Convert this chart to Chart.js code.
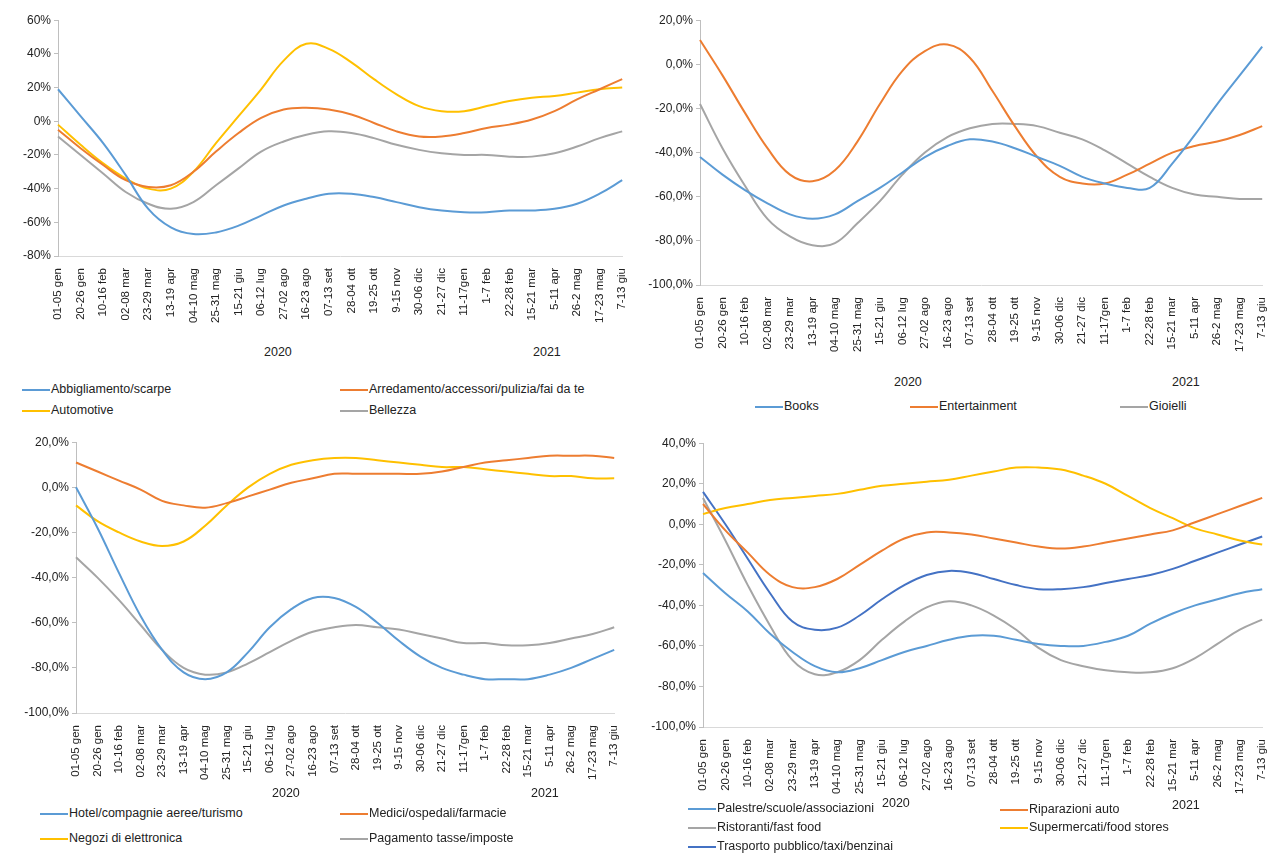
<!DOCTYPE html>
<html>
<head>
<meta charset="utf-8">
<script src="https://cdn.jsdelivr.net/npm/chart.js@4"></script>
<style>
  body { margin: 0; background: #fff; font-family: "Liberation Sans", sans-serif; font-size: 12px; color: #222; }
  #wrap { position: relative; width: 1281px; height: 854px; overflow: hidden; }
  .pane { position: absolute; }
  .lbl { position: absolute; white-space: nowrap; font-size: 12.5px; }
  .lg { position: absolute; white-space: nowrap; font-size: 12.5px; line-height: 14px; }
  .lg i { display: inline-block; width: 28px; height: 2px; vertical-align: middle; margin-right: 1px; }
</style>
</head>
<body>
<div id="wrap"></div>
<script>
// weekly tick labels (every third week)
const weeks = ['01-05 gen', '20-26 gen', '10-16 feb', '02-08 mar', '23-29 mar', '13-19 apr', '04-10 mag', '25-31 mag',
  '15-21 giu', '06-12 lug', '27-02 ago', '16-23 ago', '07-13 set', '28-04 ott', '19-25 ott', '9-15 nov', '30-06 dic',
  '21-27 dic', '11-17gen', '1-7 feb', '22-28 feb', '15-21 mar', '5-11 apr', '26-2 mag', '17-23 mag', '7-13 giu'];
const years = ['2020', '2021'];

// panel 1
const abbigliamento = [19, 3, -13, -32, -52, -63, -67, -66, -62, -56, -50, -46, -43, -43, -45, -48, -51, -53, -54, -54, -53, -53, -52, -49, -43, -35];
const arredamento = [-5, -16, -26, -35, -39, -38, -30, -18, -7, 2, 7, 8, 7, 4, -1, -6, -9, -9, -7, -4, -2, 1, 6, 13, 19, 25];
const automotive = [-2, -14, -25, -34, -40, -40, -30, -13, 3, 19, 36, 46, 43, 35, 25, 16, 9, 6, 6, 9, 12, 14, 15, 17, 19, 20];
const bellezza = [-9, -20, -31, -42, -49, -52, -48, -38, -28, -18, -12, -8, -6, -7, -10, -14, -17, -19, -20, -20, -21, -21, -19, -15, -10, -6];

// panel 2
const books = [-42, -50, -57, -63, -68, -70, -68, -62, -56, -49, -42, -37, -34, -35, -38, -42, -46, -51, -54, -56, -56, -45, -32, -18, -5, 8];
const entertainment = [11, -5, -22, -38, -50, -53, -48, -35, -18, -3, 6, 9, 3, -12, -28, -42, -51, -54, -54, -50, -45, -40, -37, -35, -32, -28];
const gioielli = [-18, -38, -55, -70, -78, -82, -81, -72, -62, -50, -40, -33, -29, -27, -27, -28, -31, -34, -39, -45, -51, -56, -59, -60, -61, -61];

// panel 3
const hotel = [0, -18, -38, -57, -72, -82, -85, -82, -73, -62, -54, -49, -49, -53, -60, -68, -75, -80, -83, -85, -85, -85, -83, -80, -76, -72];
const medici = [11, 7, 3, -1, -6, -8, -9, -7, -4, -1, 2, 4, 6, 6, 6, 6, 6, 7, 9, 11, 12, 13, 14, 14, 14, 13];
const elettronica = [-8, -15, -20, -24, -26, -24, -17, -8, 0, 6, 10, 12, 13, 13, 12, 11, 10, 9, 9, 8, 7, 6, 5, 5, 4, 4];
const tasse = [-31, -40, -50, -61, -72, -80, -83, -82, -78, -73, -68, -64, -62, -61, -62, -63, -65, -67, -69, -69, -70, -70, -69, -67, -65, -62];

// panel 4
const palestre = [-24, -34, -43, -54, -63, -70, -73, -71, -67, -63, -60, -57, -55, -55, -57, -59, -60, -60, -58, -55, -49, -44, -40, -37, -34, -32];
const riparazioni = [10, -3, -14, -25, -31, -31, -27, -20, -13, -7, -4, -4, -5, -7, -9, -11, -12, -11, -9, -7, -5, -3, 1, 5, 9, 13];
const ristoranti = [13, -8, -30, -50, -67, -74, -73, -67, -57, -48, -41, -38, -40, -45, -52, -61, -67, -70, -72, -73, -73, -71, -66, -59, -52, -47];
const supermercati = [5, 8, 10, 12, 13, 14, 15, 17, 19, 20, 21, 22, 24, 26, 28, 28, 27, 24, 20, 14, 8, 3, -2, -5, -8, -10];
const trasporto = [16, 0, -17, -34, -48, -52, -51, -45, -37, -30, -25, -23, -24, -27, -30, -32, -32, -31, -29, -27, -25, -22, -18, -14, -10, -6];

const BLUE = '#5B9BD5', ORANGE = '#ED7D31', GRAY = '#A5A5A5', YELLOW = '#FFC000', DBLUE = '#4472C4';
const FONT = { family: 'Liberation Sans', size: 12 };
const XFONT = { family: 'Liberation Sans', size: 11.5 };
const wrap = document.getElementById('wrap');

function add(cls, html, x, y) {
    const d = document.createElement('div');
    d.className = cls;
    d.innerHTML = html;
    d.style.left = x + 'px';
    d.style.top = y + 'px';
    wrap.appendChild(d);
}

function panel(p) {
    const box = document.createElement('div');
    box.className = 'pane';
    box.style.left = p.left + 'px';
    box.style.top = p.top + 'px';
    box.style.width = p.width + 'px';
    box.style.height = p.height + 'px';
    const cv = document.createElement('canvas');
    box.appendChild(cv);
    wrap.appendChild(box);

    new Chart(cv, {
        type: 'line',
        data: {
            labels: weeks,
            datasets: p.series.map(s => ({
                label: s[0], data: s[1], borderColor: s[2], borderWidth: 2,
                pointRadius: 0, tension: 0.4, fill: false
            }))
        },
        options: {
            responsive: true, maintainAspectRatio: false, animation: false,
            layout: { padding: { top: 8, right: p.padRight, left: 0, bottom: 0 } },
            plugins: { legend: { display: false }, tooltip: { enabled: false } },
            scales: {
                x: {
                    offset: false,
                    grid: { display: false, drawOnChartArea: false },
                    border: { display: true, color: '#d9d9d9' },
                    ticks: { color: '#222', font: XFONT, autoSkip: false, maxRotation: 90, minRotation: 90, padding: 4 },
                    afterFit: a => { a.height = 80; }
                },
                y: {
                    min: p.min, max: p.max,
                    grid: { display: true, drawOnChartArea: false, drawTicks: true, tickLength: 4, color: '#bfbfbf' },
                    border: { display: true, color: '#bfbfbf' },
                    ticks: { stepSize: 20, color: '#222', font: FONT, padding: 3,
                        callback: v => p.dec ? v.toFixed(1).replace('.', ',') + '%' : v + '%' },
                    afterFit: a => { a.width = p.yWidth; }
                }
            }
        }
    });
    add('lbl', years[0], p.y2020[0], p.y2020[1]);
    add('lbl', years[1], p.y2021[0], p.y2021[1]);
    p.legend.forEach(l => add('lg', '<i style="background:' + l[1] + '"></i>' + l[0], l[2], l[3]));
}

panel({ left: 0, top: 10, width: 640, height: 326, yWidth: 58, padRight: 10, min: -80, max: 60, dec: false,
    series: [['Abbigliamento/scarpe', abbigliamento, BLUE], ['Arredamento/accessori/pulizia/fai da te', arredamento, ORANGE],
             ['Automotive', automotive, YELLOW], ['Bellezza', bellezza, GRAY]],
    y2020: [264, 345], y2021: [533, 345],
    legend: [['Abbigliamento/scarpe', BLUE, 22, 382], ['Arredamento/accessori/pulizia/fai da te', ORANGE, 340, 382],
             ['Automotive', YELLOW, 22, 403], ['Bellezza', GRAY, 340, 403]] });

panel({ left: 640, top: 10, width: 640, height: 355, yWidth: 60, padRight: 10, min: -100, max: 20, dec: true,
    series: [['Books', books, BLUE], ['Entertainment', entertainment, ORANGE], ['Gioielli', gioielli, GRAY]],
    y2020: [894, 375], y2021: [1172, 375],
    legend: [['Books', BLUE, 755, 399], ['Entertainment', ORANGE, 910, 399], ['Gioielli', GRAY, 1120, 399]] });

panel({ left: 0, top: 432, width: 632, height: 361, yWidth: 76, padRight: 10, min: -100, max: 20, dec: true,
    series: [['Hotel/compagnie aeree/turismo', hotel, BLUE], ['Medici/ospedali/farmacie', medici, ORANGE],
             ['Negozi di elettronica', elettronica, YELLOW], ['Pagamento tasse/imposte', tasse, GRAY]],
    y2020: [272, 786], y2021: [531, 786],
    legend: [['Hotel/compagnie aeree/turismo', BLUE, 40, 806], ['Medici/ospedali/farmacie', ORANGE, 340, 806],
             ['Negozi di elettronica', YELLOW, 40, 831], ['Pagamento tasse/imposte', GRAY, 340, 831]] });

panel({ left: 640, top: 433, width: 640, height: 374, yWidth: 63, padRight: 12, min: -100, max: 40, dec: true,
    series: [['Palestre/scuole/associazioni', palestre, BLUE], ['Riparazioni auto', riparazioni, ORANGE],
             ['Ristoranti/fast food', ristoranti, GRAY], ['Supermercati/food stores', supermercati, YELLOW],
             ['Trasporto pubblico/taxi/benzinai', trasporto, DBLUE]],
    y2020: [882, 796], y2021: [1172, 798],
    legend: [['Palestre/scuole/associazioni', BLUE, 688, 801], ['Riparazioni auto', ORANGE, 1000, 802],
             ['Ristoranti/fast food', GRAY, 688, 820], ['Supermercati/food stores', YELLOW, 1000, 820],
             ['Trasporto pubblico/taxi/benzinai', DBLUE, 688, 839]] });
</script>
</body>
</html>
